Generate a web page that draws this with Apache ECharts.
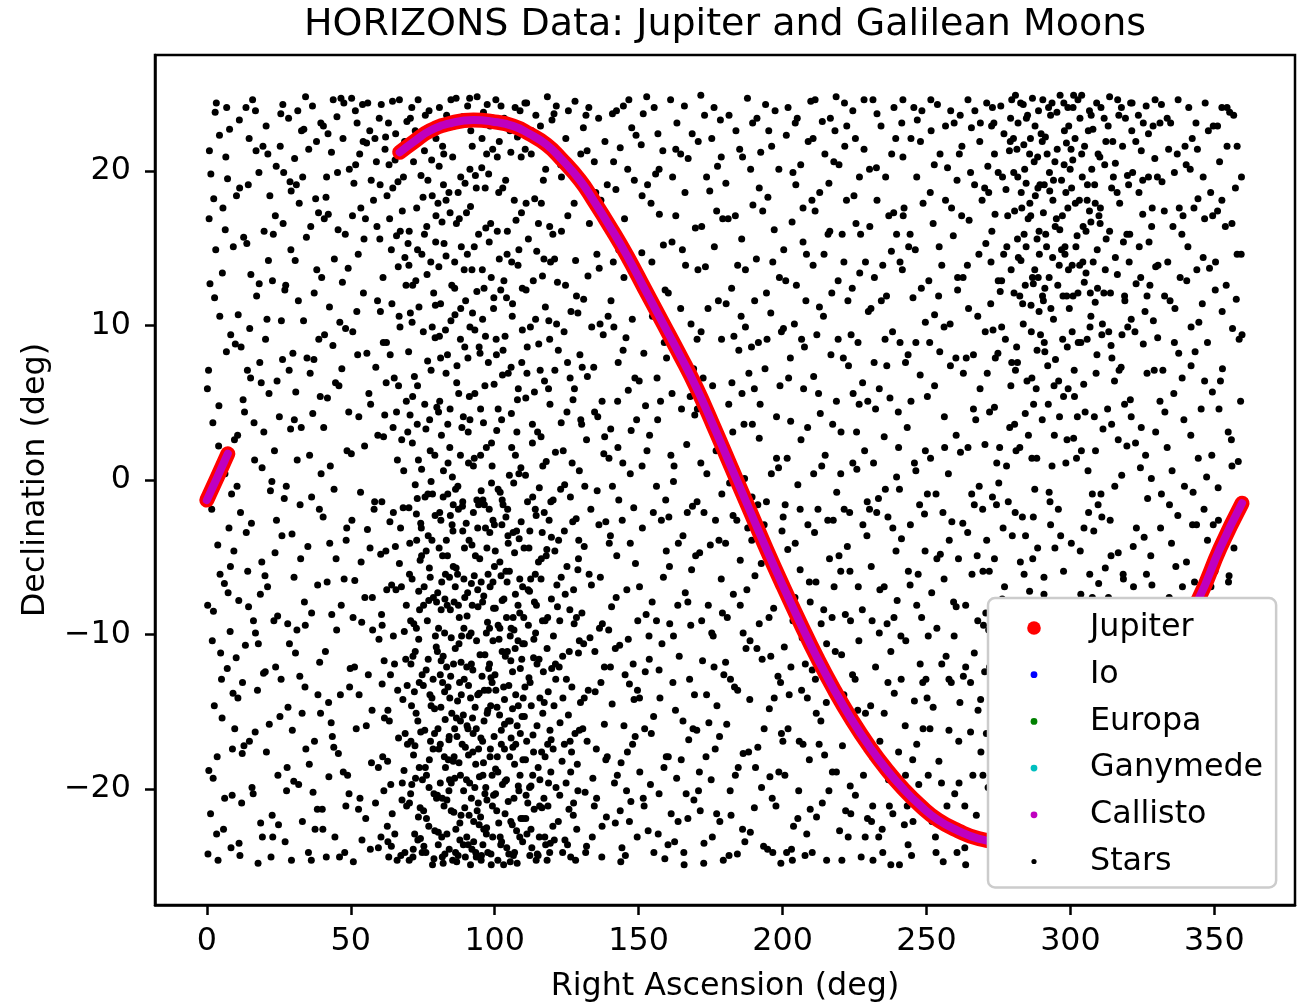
<!DOCTYPE html>
<html>
<head>
<meta charset="utf-8">
<script src="https://cdn.jsdelivr.net/npm/echarts@6/dist/echarts.min.js"></script>
<style>
  html, body { margin: 0; padding: 0; background: #fff; }
  #chart { width: 1301px; height: 1003px; }
</style>
</head>
<body>
<div id="chart"></div>
<script>
var FONT = 'DejaVu Sans';

var xTicks = [0, 50, 100, 150, 200, 250, 300, 350];
var yTicks = [-20, -10, 0, 10, 20];

// Jupiter track (RA, Dec); wraps at RA 360 -> 0
var jupiterWest = [[0,-1.3],[3.7,0.2],[7.3,1.7]];
var jupiterMain = [[67,21.2],[72,21.9],[77.5,22.6],[85,23.1],[92.6,23.3],[99,23.2],[106.5,22.9],[112,22.4],[118,21.7],[123,20.8],[129.6,19.4],[134.3,18.1],[141,16.1],[146,14.5],[152,12.4],[158,10.3],[164,8.2],[170,6.0],[176,3.5],[182,0.9],[188,-1.7],[194,-4.3],[200,-6.8],[206,-9.2],[212,-11.5],[218,-13.6],[224,-15.5],[230,-17.2],[236,-18.7],[242,-20.0],[248,-21.1],[254,-22.0],[261,-22.7],[268,-23.2],[276,-23.4],[284,-23.2],[292,-22.5],[300,-21.3],[310,-18.9],[320,-15.8],[330,-12.3],[337,-10.0],[344.5,-7.7],[352,-4.4],[359.6,-1.5]];
// the moons stay within a fraction of a degree of Jupiter at this scale
var moonWest = jupiterWest;
var moonMain = jupiterMain;

// background stars (RA, Dec)
var starsA = [
[0.4,-24.2],[1.1,12.7],[2.3,-8.5],[0.9,21.3],[3.6,-17.9],[4.2,4.8],[5.8,-22.6],[6.4,16.2],[7.7,-3.1],[8.3,9.4],[9.1,-13.8],[1.7,-1.9],[2.9,23.8],[4.8,-11.2],[6.1,-6.7],[7.2,19.5],[8.8,-20.4],[9.6,2.6],[0.6,7.1],[3.1,14.9],[5.3,-15.4],[6.9,24.1],[8.1,-9.8],[2.2,-19.3],[4.5,10.6],[9.4,-4.6],
[10.3,18.4],[11.2,-23.5],[12.6,5.2],[13.4,-10.7],[14.7,22.1],[15.5,-2.8],[16.8,-16.3],[17.3,11.9],[18.6,-7.4],[19.2,0.8],[10.8,-14.1],[11.9,8.6],[12.1,-20.9],[13.9,15.3],[14.2,-5.9],[15.9,24.6],[16.4,3.7],[17.8,-24.8],[18.1,19.9],[19.7,-12.5],[10.5,-0.4],[12.9,-17.2],[14.9,9.8],[16.2,-9.1],[18.9,6.3],[19.5,21.6],
[20.2,-6.2],[21.4,14.2],[22.7,-21.7],[23.5,1.9],[24.1,20.3],[25.8,-12.9],[26.3,7.8],[27.9,-18.6],[28.4,23.4],[29.6,-3.5],[20.9,10.4],[21.7,-15.8],[22.3,-24.4],[23.8,17.1],[24.6,-8.8],[25.2,4.1],[26.9,-1.2],[27.1,12.3],[28.7,-10.6],[29.3,18.7],[20.6,22.9],[22.1,-0.7],[24.9,-22.3],[26.5,16.6],[28.2,-14.7],[29.9,8.2],
[30.5,20.8],[31.3,-9.7],[32.8,3.4],[33.2,-22.1],[34.6,15.7],[35.1,-4.3],[36.7,24.2],[37.4,-16.9],[38.9,9.1],[39.2,-11.8],[30.2,-19.5],[31.8,11.6],[32.4,-1.6],[33.7,22.7],[34.1,-13.4],[35.9,6.9],[36.3,-24.6],[37.8,18.2],[38.5,-6.8],[39.7,0.4],[30.9,5.7],[32.1,17.9],[33.9,-7.9],[35.4,21.4],[36.9,-20.2],[38.2,13.6],[39.5,-15.1],[31.6,23.9],
[40.4,-2.4],[41.6,19.6],[42.3,-14.4],[43.8,8.7],[44.5,-23.1],[45.2,23.5],[46.7,-8.1],[47.1,12.8],[48.9,-19.1],[49.3,4.4],[40.8,16.9],[41.2,-11.1],[42.9,0.9],[43.3,21.2],[44.9,-5.1],[45.7,-17.7],[46.2,10.2],[47.6,24.4],[48.4,-3.9],[49.8,-12.2],[40.1,-21.3],[42.1,22.4],[43.6,-16.6],[45.9,6.1],[47.9,-24.1],[48.1,15.9],[49.5,20.1],[41.9,5.3],
[50.3,24.7],[51.4,-6.5],[52.6,14.6],[53.2,-20.6],[54.8,2.2],[55.5,21.8],[56.1,-12.6],[57.9,18.1],[58.3,-1.4],[59.6,-23.8],[50.7,9.6],[51.9,-16.1],[52.2,23.1],[53.8,-9.2],[54.4,12.1],[55.8,-3.2],[56.6,22.6],[57.2,-18.3],[58.7,7.3],[59.1,16.4],[50.9,-24.7],[51.1,19.2],[52.9,-13.9],[54.1,24.3],[55.2,-21.9],[56.9,4.9],[57.5,-7.6],[58.9,20.6],[59.8,-10.3],[53.5,17.6],
[60.4,-4.8],[61.2,13.1],[62.7,-22.4],[63.3,20.4],[64.8,-10.1],[65.1,6.6],[66.6,-16.7],[67.9,17.4],[68.2,-1.8],[69.5,23.2],[60.9,-13.2],[61.8,4.2],[62.1,22.2],[63.9,-19.7],[64.3,11.4],[65.7,-7.1],[66.2,1.3],[67.4,-24.3],[68.8,14.4],[69.1,-11.6],[60.2,19.1],[61.5,-20.1],[62.4,8.9],[63.6,-2.7],[64.5,24.5],[65.9,15.8],[66.9,-5.4],[67.1,9.9],[68.5,-18.8],[69.8,3.1],[60.7,-8.7],[62.9,-14.9],[64.1,-23.7],[66.4,19.3],[68.1,-14.2],[69.4,-21.1],
[70.3,16.1],[70.8,-20.3],[71.5,5.4],[71.9,-9.3],[72.4,22.6],[72.8,-2.2],[73.3,-15.6],[73.7,11.2],[74.2,-23.2],[74.6,0.7],[75.1,18.3],[75.5,-6.9],[76.2,-12.3],[76.7,7.7],[77.3,-18.1],[77.8,14.1],[78.4,-0.9],[78.9,-24.5],[79.3,9.2],[79.7,-10.8],[70.5,-4.1],[71.2,24.1],[72.1,-13.7],[73.1,3.6],[74.9,-19.4],[75.8,-1.1],[76.5,13.3],[77.1,-7.8],[78.1,20.7],[79.1,-16.4],[70.1,8.3],[71.7,-23.9],[72.6,12.9],[73.9,-8.4],[74.4,19.7],[75.3,-21.4],[76.9,-3.6],[77.6,1.9],[78.6,-12.9],[79.9,4.7],[70.9,-11.9],[72.3,-17.2],[73.5,-21.8],[74.1,-5.2],[76.1,-24.1],[77.9,-14.6],[79.5,15.4],[75.9,23.6],
[80.2,-7.3],[80.6,13.8],[81.1,-19.6],[81.5,2.9],[81.9,-13.1],[82.3,21.1],[82.7,-24.2],[83.2,-3.9],[83.6,8.1],[84.1,-16.8],[84.5,17.3],[84.9,-10.2],[85.3,0.2],[85.8,-21.5],[86.2,10.7],[86.6,-5.7],[87.1,-14.3],[87.5,5.6],[87.9,-23.3],[88.4,15.1],[88.8,-1.7],[89.3,-9.6],[89.7,19.2],[80.4,-22.8],[80.9,5.1],[81.3,-2.6],[81.7,16.7],[82.1,-11.4],[82.5,-17.9],[82.9,9.7],[83.4,-20.7],[83.8,1.1],[84.3,-6.3],[84.7,-12.7],[85.1,12.6],[85.6,-18.2],[86.4,-0.6],[86.8,-24.7],[87.3,18.6],[87.7,-8.9],[88.1,-19.1],[88.6,3.4],[89.1,-15.2],[89.5,-4.4],[89.9,11.6],[80.7,20.3],[81.4,-8.4],[82.8,-15.5],[84.2,-23.9],[85.5,-3.3],[86.9,7.4],[88.3,-11.8],[89.6,-21.2],[83.1,14.5],[86.1,-16.1],[87.4,-1.9],[84.8,24.6],[88.9,23.5]
];
var starsB = [
[90.3,-12.1],[90.7,7.9],[91.1,-21.7],[91.6,17.7],[92.1,-4.2],[92.5,-16.4],[92.9,1.4],[93.4,-24.1],[93.8,12.2],[94.2,-8.2],[94.7,-19.2],[95.1,4.6],[95.5,20.2],[95.9,-1.3],[96.4,-13.6],[96.8,9.3],[97.2,-22.5],[97.7,-6.1],[98.1,15.4],[98.5,-17.4],[98.9,-0.2],[99.4,-10.4],[99.8,6.2],[90.1,-2.8],[90.9,-17.8],[91.4,3.9],[91.8,-9.9],[92.3,10.8],[92.7,-23.4],[93.2,-14.7],[93.6,18.9],[94.4,-1.6],[94.9,-11.3],[95.3,-24.6],[95.7,13.6],[96.2,-7.5],[96.6,-20.3],[97.1,2.1],[97.4,-15.1],[97.9,19.8],[98.3,-3.4],[98.7,-12.8],[99.2,-21.1],[99.6,11.1],[90.5,14.6],[91.9,-6.7],[93.1,-19.9],[94.6,8.6],[95.8,-16.9],[97.5,-9.2],[98.8,-24.9],[99.9,-5.6],[92.2,21.6],[94.1,-13.9],[96.9,16.3],[99.1,0.9],[91.3,24.7],[96.1,23.8],[98.4,22.9],
[100.3,-18.7],[100.7,3.2],[101.2,-9.4],[101.6,14.3],[102.1,-23.6],[102.5,-2.9],[102.9,8.4],[103.4,-14.2],[103.8,19.4],[104.3,-6.6],[104.7,-20.8],[105.1,0.3],[105.6,-11.7],[106.1,10.6],[106.5,-24.3],[106.9,-4.7],[107.4,16.8],[107.8,-15.9],[108.2,5.9],[108.7,-8.6],[109.1,-21.9],[109.6,12.4],[100.1,-12.6],[100.9,20.9],[101.4,-22.2],[101.9,-0.8],[102.3,-16.2],[102.7,6.8],[103.2,-7.7],[103.6,-19.5],[104.1,11.8],[104.5,-1.9],[104.9,-13.3],[105.4,-24.7],[105.8,4.3],[106.3,-17.3],[106.7,-9.7],[107.2,1.6],[107.6,-22.7],[108.1,13.9],[108.5,-3.8],[108.9,-12.2],[109.4,7.6],[109.8,-18.1],[100.5,9.1],[101.8,-5.3],[103.1,-24.9],[104.4,16.1],[105.7,-16.7],[107.1,-10.9],[108.4,-20.1],[109.7,-6.9],[102.6,-11.1],[106.2,-14.8],[102.2,24.2],[105.3,22.6],[108.8,23.9],
[110.3,-15.3],[110.8,5.3],[111.2,-22.9],[111.7,15.6],[112.1,-7.2],[112.6,-19.8],[113.1,2.4],[113.5,-11.5],[113.9,18.2],[114.4,-2.3],[114.8,-24.2],[115.3,8.8],[115.7,-14.1],[116.2,-5.1],[116.6,13.2],[117.1,-20.6],[117.5,-9.1],[117.9,1.2],[118.4,-17.1],[118.8,10.3],[119.3,-23.5],[119.7,-3.7],[110.1,-8.9],[110.6,21.4],[111.4,-1.4],[111.9,-12.8],[112.4,9.9],[112.9,-23.8],[113.3,-16.5],[113.8,5.7],[114.2,-9.9],[114.6,14.8],[115.1,-18.6],[115.5,-0.5],[116.4,-21.2],[116.9,-12.4],[117.3,6.4],[118.1,-4.5],[118.6,-13.7],[119.1,16.4],[119.5,-18.9],[110.9,-20.4],[112.2,-3.3],[114.1,-6.1],[116.1,2.8],[118.2,-24.6],[111.1,24.4],[115.9,22.9],[117.7,20.1],[119.9,23.3],
[120.4,-10.1],[120.9,7.1],[121.3,-19.9],[121.8,12.8],[122.2,-3.9],[122.7,-15.7],[123.1,3.7],[123.6,-24.1],[124.1,9.6],[124.5,-7.4],[124.9,-12.9],[125.4,17.1],[125.8,-21.3],[126.3,-1.1],[126.7,-17.6],[127.2,5.2],[127.6,-9.3],[128.1,14.2],[128.5,-22.6],[128.9,-5.8],[129.4,0.6],[129.8,-14.4],[120.2,15.9],[120.7,-23.3],[121.6,-6.8],[122.4,-12.1],[123.4,-18.2],[124.3,-0.3],[125.1,4.4],[125.6,-15.2],[126.5,10.9],[127.4,-20.9],[128.3,-2.5],[129.1,-11.2],[129.6,8.1],[121.1,1.8],[126.1,-8.4],[128.7,-18.4],[120.6,23.7],[122.9,20.4],[124.7,22.1],[127.9,24.5],[129.2,19.8],
[130.3,-8.6],[130.9,11.7],[131.4,-20.2],[131.9,2.6],[132.5,-13.6],[132.9,16.6],[133.4,-1.9],[133.9,-23.1],[134.4,7.3],[134.8,-11.1],[135.3,-17.4],[135.8,4.1],[136.3,13.7],[136.7,-6.3],[137.2,-24.4],[137.7,9.4],[138.1,-15.8],[138.6,-2.7],[139.1,19.1],[139.6,-9.7],[130.6,-16.1],[131.1,-4.3],[132.2,6.7],[133.1,-10.2],[134.1,-19.3],[135.6,-0.7],[136.9,-13.1],[137.9,1.7],[138.8,-21.8],[139.4,10.6],[130.8,22.8],[132.7,24.1],[134.6,20.6],[136.1,23.4],[138.3,21.9],
[140.3,3.3],[140.8,-14.5],[141.4,9.9],[141.9,-22.2],[142.4,-4.9],[142.9,7.6],[143.4,-10.7],[143.9,-18.3],[144.5,1.1],[144.9,13.1],[145.4,-24.3],[145.9,-7.1],[146.4,5.8],[146.8,-13.2],[147.3,-20.8],[147.8,10.4],[148.3,-1.8],[148.8,-16.6],[149.3,3.9],[149.7,-9.1],[140.6,-8.2],[141.6,-19.6],[143.1,-1.3],[144.2,-23.8],[146.1,-17.6],[147.1,0.4],[148.1,-11.9],[149.5,-23.1],[140.9,23.7],[142.1,18.8],[143.6,21.5],[145.1,16.9],[146.6,24.6],[148.5,19.4],[149.1,22.3],
[150.4,-18.9],[150.9,21.7],[151.3,-3.1],[151.8,8.2],[152.3,-12.4],[152.8,24.8],[153.3,-22.7],[153.8,2.9],[154.3,17.9],[154.7,-7.9],[155.2,-15.3],[155.7,11.3],[156.2,-0.4],[156.7,22.4],[157.1,-20.3],[157.6,5.1],[158.1,-10.6],[158.6,15.2],[159.1,-24.5],[159.6,-4.6],[150.2,6.4],[151.1,14.7],[152.6,-8.7],[154.1,-19.7],[155.9,19.8],[157.4,-14.1],[158.9,8.9],[159.4,-1.3],
[160.3,12.1],[160.8,-9.3],[161.3,-21.6],[161.8,19.6],[162.3,0.9],[162.8,-14.9],[163.3,23.1],[163.8,-4.1],[164.3,7.9],[164.8,-18.1],[165.2,14.9],[165.7,-24.1],[166.2,-7.3],[166.7,2.3],[167.2,20.8],[167.7,-12.9],[168.2,10.1],[168.7,-1.7],[169.2,-20.7],[169.7,16.3],[160.5,-2.4],[161.6,5.6],[162.5,-23.4],[164.1,-11.4],[165.9,24.2],[167.4,-16.8],[168.4,-5.8],[169.5,4.2],
[170.2,-16.2],[170.7,21.9],[171.2,-4.7],[171.7,9.6],[172.2,-11.7],[172.7,-23.5],[173.2,13.8],[173.7,0.4],[174.2,-8.1],[174.7,18.7],[175.2,-19.4],[175.7,6.1],[176.2,24.1],[176.7,-2.6],[177.2,-14.6],[177.7,11.6],[178.2,-22.1],[178.7,-6.4],[179.2,16.9],[179.7,1.7],[170.4,4.6],[171.4,-21.4],[172.9,23.6],[174.4,-15.7],[175.9,-10.1],[177.4,20.3],[178.9,-0.9],[179.4,-24.6]
];
var starsC = [
[180.3,19.2],[180.8,-8.9],[181.3,4.9],[181.8,-20.1],[182.3,12.4],[182.8,-2.3],[183.3,-13.4],[183.8,22.6],[184.3,-24.2],[184.8,8.4],[185.3,-5.2],[185.8,15.6],[186.3,-17.7],[186.8,0.1],[187.3,-10.9],[187.8,24.7],[188.3,6.9],[188.8,-22.8],[189.3,-3.9],[189.7,17.8],[180.6,-15.8],[181.6,-0.2],[183.1,9.3],[184.6,-18.6],[186.1,20.9],[187.6,-7.1],[188.6,-14.2],[189.5,3.6],
[190.4,-6.2],[190.9,14.3],[191.4,-17.3],[191.9,2.7],[192.4,21.2],[192.9,-11.6],[193.4,-23.7],[193.9,7.2],[194.4,-1.4],[194.9,18.3],[195.4,-14.8],[195.9,10.8],[196.4,-20.6],[196.9,-8.3],[197.4,23.9],[197.9,4.1],[198.4,-12.7],[198.9,13.1],[199.4,-24.8],[199.8,-3.3],[190.2,-21.2],[191.6,8.9],[192.6,-5.4],[194.1,24.3],[195.6,-19.2],[197.1,16.2],[198.6,0.8],[199.6,-16.4],
[200.3,9.8],[200.8,-19.1],[201.3,22.3],[201.8,-4.5],[202.3,-13.9],[202.8,3.8],[203.3,16.7],[203.8,-22.4],[204.3,-7.6],[204.8,12.6],[205.3,-0.3],[205.8,-16.9],[206.3,20.4],[206.8,-10.2],[207.3,5.9],[207.8,-24.3],[208.3,14.6],[208.8,-2.9],[209.3,-18.1],[209.8,24.5],[200.6,-10.8],[201.6,1.4],[203.1,-23.9],[204.6,19.1],[206.1,-5.8],[207.6,8.6],[208.6,-14.1],[209.6,-21.3],
[210.3,-12.3],[210.8,6.7],[211.3,17.4],[211.8,-21.8],[212.3,-1.9],[212.8,11.2],[213.3,-15.6],[213.8,23.2],[214.3,-8.4],[214.8,1.6],[215.3,-24.6],[215.8,15.9],[216.3,-5.1],[216.8,8.1],[217.3,-18.9],[217.8,20.6],[218.3,-11.1],[218.8,-0.8],[219.3,12.9],[219.8,-22.7],[210.6,22.1],[211.6,-6.6],[213.1,4.3],[214.6,-17.8],[216.1,19.2],[217.6,-2.6],[218.6,24.8],[219.6,-14.4],
[220.3,3.1],[220.8,-17.2],[221.3,14.1],[221.8,-8.7],[222.3,22.9],[222.8,-23.1],[223.3,-2.1],[223.8,9.4],[224.3,-12.6],[224.8,18.4],[225.3,-20.4],[225.8,0.7],[226.3,-6.9],[226.8,13.4],[227.3,-24.4],[227.8,6.3],[228.3,21.4],[228.8,-15.1],[229.3,-3.6],[229.8,10.9],[220.5,-11.3],[221.5,24.4],[222.5,-4.3],[223.5,-19.8],[224.5,5.6],[225.5,16.6],[226.5,-10.4],[227.5,-16.7],[228.5,1.9],[229.5,-21.9],
[230.3,16.4],[230.8,-5.6],[231.3,-21.1],[231.8,7.6],[232.3,-12.1],[232.8,23.7],[233.3,-1.2],[233.8,-16.9],[234.3,11.6],[234.8,-24.1],[235.3,2.8],[235.8,19.6],[236.3,-9.3],[236.8,-19.4],[237.3,5.3],[237.8,14.8],[238.3,-3.1],[238.8,-13.8],[239.3,22.1],[239.8,-7.8],[230.6,-14.6],[231.6,1.1],[232.6,20.2],[233.6,-9.9],[234.6,-22.6],[235.6,9.1],[236.6,-2.4],[237.6,-24.9],[238.6,17.3],[239.6,0.2],
[240.3,-17.6],[240.8,8.9],[241.3,-3.8],[241.8,20.9],[242.3,-22.3],[242.8,-10.4],[243.3,3.4],[243.8,15.1],[244.3,-6.8],[244.8,-24.3],[245.3,11.8],[245.8,-14.3],[246.3,0.6],[246.8,23.3],[247.3,-19.7],[247.8,6.8],[248.3,-8.9],[248.8,17.9],[249.3,-2.2],[249.8,-12.9],[240.6,-0.6],[241.6,13.6],[242.6,-15.9],[243.6,-23.6],[244.6,5.1],[245.6,24.1],[246.6,-8.1],[247.6,-1.6],[248.6,-20.9],[249.6,10.2],
[250.3,5.4],[250.8,-21.4],[251.3,18.6],[251.8,-7.3],[252.3,-14.7],[252.8,10.7],[253.3,-0.9],[253.8,24.3],[254.3,-18.2],[254.8,-4.8],[255.3,13.9],[255.8,-24.7],[256.3,2.1],[256.8,-11.4],[257.3,20.2],[257.8,-16.2],[258.3,7.4],[258.8,-2.7],[259.3,15.8],[259.8,-20.3],[250.6,-10.1],[251.6,22.6],[253.1,-23.1],[254.6,8.3],[256.1,-6.4],[257.6,0.4],[258.6,-13.1],[259.6,23.1],
[260.3,-8.2],[260.8,12.3],[261.3,-19.6],[261.8,1.8],[262.3,21.6],[262.8,-12.7],[263.3,-23.8],[263.8,7.9],[264.3,-3.4],[264.8,16.8],[265.3,-16.3],[265.8,-6.1],[266.3,4.6],[266.8,23.9],[267.3,-21.7],[267.8,10.6],[268.3,-0.4],[268.8,-14.2],[269.3,18.1],[269.8,-9.4],[260.6,19.4],[261.6,-14.4],[262.6,-2.8],[263.6,-24.9],[264.6,11.1],[265.6,22.8],[266.6,-11.2],[267.6,-4.9],[268.6,5.9],[269.6,-19.1]
];
var starsD = [
[270.3,2.3],[270.8,-16.4],[271.3,20.3],[271.8,-5.9],[272.3,11.4],[272.8,-22.1],[273.3,-11.8],[273.8,17.2],[274.3,-1.6],[274.8,8.2],[275.3,-19.3],[275.8,24.2],[276.3,-7.7],[276.8,14.6],[277.3,-24.2],[277.8,0.9],[278.3,-13.3],[278.8,21.3],[279.3,6.1],[279.8,-3.6],[270.6,15.3],[271.6,-9.7],[272.6,22.9],[273.6,4.7],[274.6,-14.9],[275.6,12.2],[276.6,-21.1],[277.6,18.8],[278.6,-8.6],[279.6,24.6],[271.1,-23.4],[273.1,9.7],[275.1,-0.2],[277.1,-17.3],
[280.3,19.9],[280.8,-10.6],[281.3,8.6],[281.8,23.1],[282.3,-18.6],[282.8,14.2],[283.3,-2.4],[283.8,21.7],[284.3,4.3],[284.8,-22.8],[285.3,16.9],[285.8,-7.2],[286.3,11.3],[286.8,24.7],[287.3,-14.6],[287.8,18.4],[288.3,1.4],[288.8,13.1],[289.3,-20.6],[289.8,22.4],[280.6,3.6],[281.6,15.6],[282.6,-5.3],[283.6,10.1],[284.6,19.2],[285.6,-16.8],[286.6,6.6],[287.6,-0.6],[288.6,20.9],[289.6,9.4],[280.2,-24.1],[281.1,-13.6],[283.1,17.6],[285.1,23.6],[286.1,-11.9],[287.1,12.7],[288.1,-8.1],[289.1,16.1],
[290.3,11.9],[290.8,-6.3],[291.3,22.2],[291.8,-17.7],[292.3,4.9],[292.8,18.7],[293.3,-11.3],[293.8,14.4],[294.3,-23.3],[294.8,7.8],[295.3,23.8],[295.8,-1.9],[296.3,16.2],[296.8,-14.1],[297.3,9.1],[297.8,20.4],[298.3,-20.9],[298.8,2.6],[299.3,13.6],[299.8,-8.4],[290.6,17.3],[291.6,-24.6],[292.6,-0.8],[293.6,24.4],[294.6,-4.4],[295.6,12.6],[296.6,-19.1],[297.6,5.4],[298.6,21.8],[299.6,-15.6],[290.1,-12.8],[291.1,8.3],[293.1,-2.9],[294.1,19.4],[296.1,-9.6],[297.1,-22.4],[298.1,15.1],[299.1,24.1],
[300.3,-4.1],[300.8,20.7],[301.3,7.1],[301.8,-21.2],[302.3,15.8],[302.8,-9.8],[303.3,23.4],[303.8,1.9],[304.3,-15.9],[304.8,12.8],[305.3,-24.4],[305.8,18.1],[306.3,-2.1],[306.8,9.9],[307.3,-12.2],[307.8,22.7],[308.3,4.1],[308.8,-18.4],[309.3,14.9],[309.8,-6.7],[300.6,13.9],[301.6,-13.4],[302.6,24.6],[303.6,-7.4],[304.6,6.2],[305.6,-19.9],[306.6,17.4],[307.6,-0.9],[308.6,11.5],[309.6,21.1],[300.2,-17.1],[301.1,2.7],[303.1,-23.7],[304.1,19.6],[306.1,-10.7],[307.1,16.7],[308.1,-3.3],[309.1,-24.8],
[310.3,16.6],[310.8,-8.3],[311.3,3.3],[311.8,-19.8],[312.3,21.9],[312.8,-13.1],[313.3,9.6],[313.8,-2.6],[314.3,18.9],[314.8,-23.8],[315.3,6.4],[315.8,-10.3],[316.3,13.3],[316.8,23.6],[317.3,-16.6],[317.8,0.3],[318.3,-6.1],[318.8,11.9],[319.3,-21.3],[319.8,19.7],[310.6,-0.9],[311.6,12.1],[312.6,-24.7],[313.6,24.8],[314.6,-12.4],[315.6,20.5],[316.6,-4.7],[317.6,7.3],[318.6,-15.1],[319.6,2.2],[310.1,-22.6],[312.1,-5.7],[314.1,8.7],[316.1,-18.6],
[320.3,-14.3],[320.8,5.2],[321.3,22.6],[321.8,-4.3],[322.3,-20.4],[322.8,12.7],[323.3,-9.4],[323.8,18.6],[324.3,0.8],[324.8,-24.1],[325.3,8.8],[325.8,-13.3],[326.3,24.2],[326.8,-1.2],[327.3,15.4],[327.8,-17.9],[328.3,-6.8],[328.8,10.3],[329.3,20.8],[329.8,-22.6],[320.6,15.9],[321.6,-10.9],[322.6,2.4],[323.6,-23.2],[324.6,21.3],[325.6,-3.7],[326.6,6.9],[327.6,-11.7],[328.6,-19.5],[329.6,13.8],[321.1,-17.1],[325.1,17.2],
[330.3,9.2],[330.8,-18.1],[331.3,-3.1],[331.8,19.3],[332.3,-11.9],[332.8,4.4],[333.3,-23.6],[333.8,14.1],[334.3,-7.6],[334.8,23.1],[335.3,0.6],[335.8,-15.4],[336.3,11.1],[336.8,-20.7],[337.3,-2.3],[337.8,17.6],[338.3,-10.3],[338.8,6.6],[339.3,-24.7],[339.8,21.6],[330.6,-9.1],[331.6,24.3],[332.6,-19.4],[333.6,2.1],[334.6,-13.6],[335.6,16.4],[336.6,-5.6],[337.6,8.2],[338.6,-16.8],[339.6,-0.4],
[340.3,-5.3],[340.8,15.1],[341.3,-21.9],[341.8,2.9],[342.3,22.1],[342.8,-13.2],[343.3,8.3],[343.8,-2.9],[344.3,18.2],[344.8,-18.9],[345.3,-9.6],[345.8,11.4],[346.3,-24.3],[346.8,24.4],[347.3,0.2],[347.8,-15.2],[348.3,13.7],[348.8,-6.9],[349.3,5.7],[349.8,-20.3],[340.6,-15.9],[341.6,20.1],[342.6,-0.8],[343.6,-23.9],[344.6,10.2],[345.6,-11.4],[346.6,16.9],[347.6,-3.9],[348.6,-17.7],[349.6,22.9],
[350.3,12.3],[350.8,-11.7],[351.3,-0.5],[351.8,20.6],[352.3,-19.3],[352.8,7.2],[353.3,-8.1],[353.8,16.4],[354.3,-23.2],[354.8,3.1],[355.3,23.8],[355.8,-14.8],[356.3,9.8],[356.8,-4.4],[357.3,18.9],[357.8,-21.4],[358.3,1.2],[358.8,-10.9],[359.3,14.6],[359.7,-17.2],[350.6,-24.5],[351.6,4.6],[352.6,24.1],[353.6,-15.6],[355.1,-6.2],[356.6,-22.1],[357.6,11.7],[359.1,-2.1]
];
// second pass over the field, denser clusters around RA 65-130 and the upper right
var starsE = [
[3.3,24.4],[7.9,22.7],[1.4,19.8],[5.6,17.6],[9.2,15.1],[2.7,11.8],[6.8,8.3],[0.2,5.9],[4.1,2.2],[8.6,-0.9],[3.8,-4.2],[7.4,-7.3],[1.9,-10.4],[5.1,-12.9],[9.7,-16.1],[0.7,-18.8],[6.2,-20.6],[3.4,-22.9],[8.4,-23.8],[2.6,-14.6],
[13.6,24.1],[17.1,21.3],[11.4,18.9],[19.9,16.1],[15.3,13.3],[10.9,10.7],[18.4,7.6],[13.1,4.4],[16.6,1.3],[11.7,-2.1],[19.1,-5.3],[14.5,-8.2],[10.2,-11.5],[17.6,-13.6],[12.3,-17.7],[15.7,-19.9],[18.7,-22.2],[11.5,-24.3],[16.9,-9.9],[14.1,7.1],
[25.7,23.7],[21.2,21.1],[28.9,19.3],[23.1,15.9],[27.4,12.6],[20.4,9.1],[24.4,6.4],[29.1,3.3],[22.6,-0.1],[26.1,-3.6],[21.1,-6.9],[28.1,-9.3],[23.9,-12.1],[25.4,-15.3],[20.7,-17.6],[27.7,-20.1],[22.9,-23.1],[29.4,-24.6],[24.2,-2.6],[26.7,19.9],
[34.3,24.8],[38.1,21.9],[31.1,19.1],[36.1,16.4],[39.9,13.1],[33.6,10.3],[37.2,7.8],[30.4,3.9],[35.7,1.6],[39.1,-1.9],[32.6,-5.1],[36.4,-8.6],[30.8,-11.2],[38.6,-13.9],[34.4,-17.4],[31.9,-19.7],[37.6,-22.6],[35.3,-24.1],[33.1,-15.1],[39.4,5.4],
[43.9,24.6],[47.3,22.1],[41.4,18.3],[45.6,16.2],[49.1,13.7],[42.6,11.2],[46.9,7.2],[40.6,3.4],[44.2,-0.6],[48.6,-3.1],[41.8,-6.6],[45.1,-9.7],[49.6,-13.4],[43.2,-15.7],[47.4,-18.9],[40.3,-22.6],[46.1,-24.4],[48.3,-21.1],[42.4,-19.2],[44.7,6.3],
[51.6,23.9],[55.9,24.4],[58.4,22.1],[53.1,21.1],[57.1,19.4],[50.6,17.1],[54.6,15.6],[59.3,11.6],[52.4,8.1],[56.3,5.6],[50.2,1.7],[58.1,-1.9],[53.6,-5.3],[57.6,-9.7],[51.3,-12.1],[55.4,-15.9],[59.6,-18.6],[52.7,-21.3],[56.8,-23.9],[54.9,-7.6],
[60.6,24.3],[63.1,23.1],[66.9,24.6],[61.9,21.4],[65.4,20.7],[68.7,21.9],[62.6,18.4],[67.2,16.1],[64.1,14.9],[69.2,12.6],[60.3,10.9],[63.7,8.1],[66.6,6.1],[61.4,2.8],[68.4,0.6],[64.8,-2.1],[62.2,-4.6],[67.6,-6.9],[60.9,-9.4],[65.2,-11.9],[69.6,-13.3],[63.4,-15.6],[61.1,-17.9],[67.9,-19.6],[64.4,-21.6],[62.9,-23.4],[66.1,-24.6],[69.3,-8.1],[65.9,4.4],[68.9,-16.4],
[70.7,23.4],[73.4,24.6],[77.2,23.9],[79.6,22.1],[71.8,20.6],[75.6,21.3],[78.3,18.4],[72.9,17.6],[76.4,16.4],[70.2,13.9],[74.7,14.6],[78.8,12.1],[71.3,10.2],[75.2,9.6],[77.9,7.1],[73.2,6.1],[70.6,4.2],[76.1,3.3],[79.2,1.6],[72.4,-0.3],[74.3,-2.8],[78.2,-3.9],[70.4,-6.1],[73.6,-7.2],[76.6,-9.1],[79.4,-10.1],[71.6,-11.4],[74.8,-12.6],[77.5,-13.9],[72.7,-15.1],[70.9,-16.9],[75.7,-16.2],[78.6,-17.4],[73.8,-18.6],[71.2,-19.7],[76.3,-19.1],[79.8,-20.6],[74.1,-21.2],[72.2,-22.9],[77.1,-22.4],[75.4,-23.7],[70.3,-24.6],[78.4,-24.9],[73.1,-1.2],[76.8,-0.9],[71.4,2.4],[77.6,-6.3],[74.6,-4.9],[79.1,-14.8],[72.8,-9.6],
[80.8,24.1],[83.3,23.6],[86.6,24.7],[81.9,21.6],[85.4,20.9],[88.2,19.6],[80.3,17.9],[84.1,18.6],[87.7,16.9],[82.4,15.3],[86.1,14.1],[89.4,13.6],[81.2,11.4],[84.8,10.3],[88.1,9.1],[83.1,6.9],[86.8,6.3],[80.5,4.4],[89.1,4.1],[84.4,2.1],[82.2,0.6],[87.2,-0.4],[80.9,-2.1],[85.2,-2.9],[88.9,-3.3],[83.6,-4.9],[81.6,-6.6],[86.3,-6.9],[89.6,-7.6],[84.6,-8.4],[82.6,-9.9],[87.6,-10.6],[80.1,-11.1],[85.7,-11.9],[83.8,-13.4],[88.4,-13.9],[81.3,-14.7],[86.7,-15.4],[84.2,-16.6],[80.6,-17.4],[88.7,-17.1],[82.9,-18.6],[86.1,-19.3],[89.2,-20.1],[81.8,-20.6],[84.9,-21.4],[87.9,-22.2],[83.4,-22.9],[80.4,-23.6],[86.4,-24.1],[82.1,-24.8],[89.8,-24.4],[85.6,-5.6],[87.4,-8.1],[83.7,-0.9],[81.1,-12.6],[85.9,-17.9],[88.1,-15.6],[84.3,-19.4],[82.7,-7.7],
[90.6,24.2],[93.9,24.8],[97.4,24.3],[91.7,22.6],[95.6,22.1],[99.3,21.4],[93.3,19.7],[96.7,18.9],[90.2,17.3],[98.6,16.6],[94.4,15.9],[92.1,13.6],[96.3,12.4],[99.7,11.8],[91.4,9.9],[94.9,8.2],[97.8,7.6],[93.1,5.6],[90.8,3.1],[96.1,3.7],[98.9,2.4],[92.6,0.9],[95.3,-0.7],[91.1,-3.9],[94.1,-3.1],[97.3,-4.4],[99.4,-6.6],[92.9,-6.2],[95.8,-7.9],[90.4,-8.8],[98.2,-9.6],[93.7,-10.4],[91.9,-11.9],[96.6,-11.3],[99.1,-13.1],[94.6,-13.8],[92.3,-15.4],[97.6,-14.9],[90.7,-16.1],[95.2,-16.7],[98.4,-17.9],[93.4,-18.4],[91.3,-19.6],[96.9,-19.9],[99.6,-20.4],[94.3,-20.9],[92.7,-22.1],[97.1,-22.9],[90.3,-23.1],[95.9,-23.6],[93.6,-24.4],[98.7,-24.2],[91.6,-24.9],[96.4,-1.6],[94.8,-5.1],[92.4,-17.6],[97.9,-12.2],[99.9,-2.9],[90.9,-13.3],[95.1,-21.8],
[100.4,24.6],[103.3,23.4],[107.1,24.1],[101.6,21.9],[105.6,21.2],[109.2,20.9],[102.8,18.9],[106.8,18.1],[100.9,16.1],[104.3,14.6],[108.4,14.9],[102.1,12.3],[106.2,11.4],[109.6,9.7],[100.6,8.1],[104.7,6.9],[107.9,5.2],[102.4,3.9],[105.9,2.1],[109.1,0.8],[101.2,-0.6],[103.9,-2.4],[107.6,-3.3],[100.2,-4.6],[105.1,-5.9],[108.7,-6.4],[102.6,-7.8],[106.4,-8.9],[101.5,-10.3],[104.4,-11.1],[109.4,-11.6],[103.1,-13.4],[107.3,-13.9],[100.8,-14.7],[105.4,-15.6],[108.9,-16.4],[102.3,-17.1],[106.9,-18.4],[104.1,-19.4],[100.3,-20.3],[108.2,-19.8],[103.6,-21.6],[106.1,-22.3],[101.9,-23.1],[109.7,-23.4],[104.9,-24.2],[107.8,-24.8],[102.9,-1.6],[105.7,-9.6],[108.1,-8.1],[101.1,-18.9],[103.4,-15.8],[106.6,-0.2],[109.9,-14.1],[104.6,-3.6],
[110.5,24.4],[114.3,23.6],[118.3,24.8],[112.7,21.1],[116.9,19.4],[110.9,17.9],[115.2,16.6],[119.4,14.1],[113.4,12.9],[117.6,11.2],[111.3,8.6],[115.8,7.1],[119.2,4.9],[113.1,3.6],[110.7,0.3],[116.7,0.9],[114.1,-1.9],[118.9,-2.6],[111.9,-4.4],[116.1,-6.4],[113.8,-7.9],[110.3,-10.6],[118.4,-8.9],[115.4,-11.6],[112.3,-13.1],[117.2,-14.4],[119.8,-12.2],[114.7,-15.9],[111.1,-16.9],[116.3,-17.6],[113.2,-19.1],[118.7,-19.6],[110.8,-21.9],[115.6,-21.1],[112.6,-22.6],[117.4,-23.1],[114.4,-24.6],[119.1,-24.1],[111.6,-7.1],[117.9,-4.9],[113.6,-10.3],[116.6,-9.1],[119.6,-16.8],[112.1,-19.9],[115.1,-24.3],
[121.4,24.2],[125.6,23.9],[123.2,19.6],[127.6,17.9],[120.8,14.3],[124.6,12.6],[128.9,10.8],[122.1,8.4],[126.2,6.6],[129.9,3.9],[123.8,1.9],[120.3,-1.3],[127.1,-2.7],[125.1,-5.6],[121.8,-8.2],[128.4,-8.9],[123.6,-11.4],[126.8,-13.4],[120.6,-14.6],[129.4,-16.2],[124.2,-17.1],[122.6,-20.4],[127.3,-21.7],[125.3,-23.6],[120.2,-22.4],[128.1,-24.6],[123.1,-6.3],[126.4,-18.9],[121.1,-11.9],[129.1,-5.1],
[131.7,23.6],[135.1,18.6],[138.9,16.4],[132.4,13.2],[136.6,10.1],[130.4,7.3],[134.7,4.4],[138.2,2.8],[131.3,-0.4],[136.2,-2.9],[139.8,-4.1],[133.6,-6.8],[130.9,-10.6],[137.4,-9.3],[134.9,-13.7],[132.1,-16.9],[138.6,-18.1],[135.4,-20.6],[131.9,-23.7],[137.3,-22.4],
[141.3,20.6],[144.7,24.2],[147.6,22.8],[143.1,14.9],[148.2,13.9],[140.4,11.6],[145.6,9.2],[142.7,5.1],[147.4,3.2],[140.9,-0.4],[144.3,-2.6],[148.9,-5.4],[142.2,-7.6],[146.4,-10.3],[140.2,-12.1],[144.9,-15.9],[148.4,-14.2],[142.6,-19.1],[146.8,-22.1],[143.8,-24.7],
[151.6,23.7],[155.4,24.1],[158.4,21.3],[153.1,19.1],[157.2,17.2],[150.6,12.4],[154.8,10.6],[159.2,12.3],[152.4,4.8],[156.4,6.6],[151.2,0.9],[155.1,-2.1],[158.6,-6.3],[153.6,-10.1],[150.3,-14.1],[157.1,-12.3],[154.4,-16.4],[151.9,-21.1],[156.8,-22.9],[159.6,-17.9],
[161.1,24.6],[164.6,21.1],[168.6,22.4],[162.9,17.1],[166.3,13.9],[160.4,9.4],[164.9,4.6],[169.1,7.2],[162.1,-0.1],[166.9,-2.1],[160.7,-5.6],[163.6,-8.1],[168.1,-9.4],[161.9,-13.1],[165.4,-15.6],[169.4,-13.9],[163.2,-19.3],[167.1,-21.9],[160.2,-23.6],[165.8,-24.9],
[171.6,24.9],[175.4,22.1],[178.4,23.3],[173.6,19.6],[177.1,17.4],[170.6,13.6],[174.1,11.1],[178.8,9.1],[172.4,6.6],[176.9,1.9],[170.3,-1.4],[174.9,-4.2],[179.1,-8.6],[171.9,-9.1],[176.2,-12.1],[173.4,-17.9],[178.1,-16.6],[170.8,-20.1],[175.6,-23.1],[172.6,-24.8],
[181.4,23.6],[185.1,21.4],[188.9,20.1],[183.6,17.1],[187.1,13.6],[180.4,11.4],[185.6,10.6],[189.2,8.6],[182.4,6.3],[186.6,3.6],[180.9,1.4],[184.1,-2.6],[189.4,-1.1],[182.9,-7.4],[186.3,-9.9],[180.2,-11.8],[184.4,-13.6],[188.2,-17.6],[182.1,-21.7],[186.9,-23.4],
[191.1,23.4],[195.2,22.6],[198.7,20.1],[193.1,17.4],[196.6,14.1],[190.3,11.6],[194.6,9.1],[199.1,6.1],[192.2,4.9],[196.1,0.4],[190.8,-2.4],[194.2,-4.1],[198.3,-6.1],[191.9,-9.3],[195.9,-11.4],[199.3,-13.1],[193.6,-16.1],[190.6,-18.6],[197.7,-21.1],[194.8,-23.9],
[201.9,24.1],[205.1,23.4],[208.9,21.9],[203.6,19.9],[207.1,17.6],[200.4,14.9],[204.1,10.1],[208.1,11.6],[202.1,6.6],[206.4,2.6],[200.9,-1.6],[204.4,-4.1],[209.3,-6.6],[202.9,-12.1],[206.6,-13.6],[200.1,-16.9],[205.6,-20.1],[208.4,-22.9],[203.4,-24.6],[207.1,-17.1],
[211.3,24.6],[214.7,21.1],[218.2,22.6],[212.9,18.6],[216.4,16.1],[210.6,13.9],[214.2,10.6],[219.3,9.1],[212.5,5.6],[217.4,3.6],[210.8,0.4],[215.7,-2.6],[219.6,-4.9],[213.4,-9.3],[217.2,-8.9],[211.7,-15.1],[215.2,-14.4],[218.7,-18.9],[213.8,-20.9],[210.3,-24.1],
[221.6,21.6],[224.4,23.9],[228.3,24.6],[222.2,18.1],[226.7,19.6],[220.7,15.9],[224.2,12.4],[228.8,14.1],[222.9,7.4],[226.2,8.9],[220.2,0.4],[225.7,3.1],[229.4,-1.4],[223.4,-5.9],[227.7,-8.4],[221.3,-13.9],[225.2,-12.9],[228.1,-19.1],[223.7,-21.6],[220.6,-24.6],
[231.4,24.6],[234.2,22.9],[238.7,24.1],[232.8,18.1],[236.9,17.1],[230.7,11.1],[234.8,13.9],[238.2,9.6],[232.3,4.6],[236.2,7.4],[230.2,-1.9],[235.7,-0.6],[239.4,-4.6],[233.8,-7.1],[237.6,-11.1],[231.2,-17.9],[235.3,-15.1],[238.3,-21.6],[233.4,-23.1],[230.9,-22.1],
[241.8,24.6],[244.6,22.1],[248.4,23.9],[242.2,17.6],[246.6,19.6],[240.8,14.1],[244.3,15.9],[248.2,12.4],[242.7,7.6],[246.3,8.9],[240.3,2.1],[245.8,1.1],[249.5,-4.6],[243.7,-5.9],[247.8,-11.9],[241.2,-12.9],[245.2,-18.1],[248.8,-16.1],[243.3,-21.1],[240.6,-24.9],
[251.5,24.6],[254.7,21.1],[258.4,23.9],[252.3,16.6],[256.6,18.1],[250.8,12.9],[254.2,11.9],[258.2,10.1],[252.8,6.1],[256.2,4.1],[250.3,-0.9],[255.7,-2.1],[259.4,-7.9],[253.6,-9.6],[257.8,-12.9],[251.2,-16.1],[255.2,-19.6],[258.9,-22.6],[253.3,-24.1],[250.6,-19.1],
[261.7,23.6],[264.4,24.6],[268.5,21.9],[262.2,17.1],[266.7,19.1],[260.8,13.1],[264.2,13.9],[268.2,14.6],[262.8,6.9],[266.3,8.1],[260.3,2.9],[265.7,-0.9],[269.5,-1.9],[263.6,-8.1],[267.8,-9.1],[261.2,-16.9],[265.3,-13.1],[268.9,-17.6],[263.3,-21.1],[260.6,-24.1],
[270.9,24.4],[273.4,23.1],[276.9,22.4],[279.1,21.9],[271.6,18.6],[274.9,19.9],[278.2,17.1],[272.4,14.1],[276.1,12.9],[279.4,13.6],[270.4,9.6],[273.9,7.9],[277.4,9.1],[271.9,4.4],[275.4,2.1],[278.9,3.4],[272.9,-1.1],[276.6,-3.1],[270.6,-8.6],[274.1,-9.9],[278.4,-10.9],[272.2,-14.1],[275.9,-17.1],[279.6,-16.6],[271.4,-19.9],[274.4,-22.6],[277.9,-23.1],[273.6,-5.1],[276.2,-13.6],[270.2,-12.4],
[280.9,24.9],[283.6,24.3],[286.1,22.1],[288.9,23.9],[281.4,21.4],[284.1,20.1],[287.4,20.6],[289.4,19.1],[280.6,17.4],[282.9,18.6],[285.9,17.9],[288.4,15.6],[281.9,14.4],[284.6,15.1],[287.6,13.6],[280.4,12.1],[283.4,11.4],[286.4,9.6],[289.1,10.9],[281.6,7.6],[284.9,6.4],[288.1,5.9],[282.4,2.1],[286.6,1.4],[280.8,-2.1],[284.4,-3.6],[288.6,-4.4],[282.1,-8.9],[286.9,-9.4],[280.2,-13.1],[284.2,-14.1],[288.2,-12.6],[282.6,-17.9],[286.2,-19.6],[289.6,-16.9],[281.2,-21.9],[285.4,-23.4],[288.8,-23.9],[283.9,-6.1],[287.1,-2.4],
[290.4,24.6],[293.1,23.6],[296.4,24.9],[299.4,22.9],[291.9,21.1],[294.6,20.6],[297.9,22.6],[290.9,19.1],[293.9,18.1],[296.9,19.4],[299.1,17.6],[291.4,15.9],[295.1,16.9],[298.1,14.6],[292.6,13.1],[296.1,13.9],[299.6,11.1],[290.6,11.6],[294.1,10.4],[297.4,11.9],[292.1,7.4],[295.9,6.4],[298.9,8.6],[290.2,3.9],[294.4,2.9],[298.4,1.1],[292.9,-1.4],[296.6,-3.6],[290.8,-7.4],[294.9,-8.9],[298.6,-10.6],[292.4,-13.9],[296.4,-15.1],[290.4,-18.4],[294.1,-19.9],[298.1,-18.6],[292.1,-22.9],[296.1,-23.9],[299.6,-24.4],[297.6,-5.9],
[300.9,24.1],[303.9,24.9],[306.6,23.9],[309.1,24.4],[301.6,22.1],[304.9,21.6],[307.4,20.1],[300.4,18.9],[303.1,18.1],[305.9,19.1],[308.6,17.9],[301.9,15.1],[304.4,16.4],[307.9,14.1],[302.6,12.1],[305.4,13.4],[309.4,12.4],[300.6,9.6],[303.6,8.9],[307.1,10.6],[301.4,5.4],[305.1,4.4],[308.9,6.9],[302.1,1.4],[306.1,0.6],[309.6,-1.6],[303.4,-4.6],[307.6,-7.6],[300.8,-10.4],[304.6,-11.9],[308.4,-13.6],[302.9,-16.9],[306.9,-17.9],[301.1,-20.9],[304.1,-22.6],[308.1,-21.4],[302.4,-24.1],[306.4,-24.6],[305.6,-14.6],[309.8,-9.1],
[310.6,24.1],[313.1,22.9],[316.4,24.6],[319.1,23.4],[311.9,20.4],[314.9,19.6],[318.1,21.6],[310.4,17.6],[313.6,16.1],[317.1,17.9],[319.6,15.9],[312.1,13.6],[315.6,14.4],[318.9,11.6],[311.1,10.1],[314.4,7.9],[317.9,9.4],[312.9,4.6],[316.6,2.6],[310.9,-2.4],[314.1,-4.9],[318.4,-6.4],[312.4,-10.1],[316.1,-12.9],[319.4,-11.1],[310.2,-15.6],[313.9,-18.1],[317.4,-20.4],[311.6,-22.9],[315.1,-24.1],[319.1,-24.6],[315.9,-8.1],
[320.9,24.4],[323.6,23.6],[327.1,22.4],[329.4,24.6],[321.6,19.9],[325.1,19.4],[328.4,17.6],[320.4,14.1],[323.9,15.1],[327.6,12.6],[322.4,9.6],[325.9,10.9],[329.1,7.1],[321.1,4.1],[324.6,3.4],[328.1,0.1],[322.9,-3.1],[326.4,-6.1],[320.6,-8.9],[324.1,-11.9],[328.9,-13.6],[322.1,-16.6],[326.1,-19.1],[320.2,-21.9],[324.4,-23.9],[328.4,-24.4],[323.1,-19.6],[327.9,-4.9],
[331.1,23.1],[334.1,21.4],[337.4,24.6],[332.6,17.4],[336.1,19.9],[339.1,17.1],[330.4,13.9],[334.6,11.6],[338.1,13.1],[332.1,7.1],[335.9,5.6],[339.4,3.9],[331.6,-0.9],[335.1,-4.1],[338.9,-6.9],[333.1,-11.1],[336.9,-13.9],[330.9,-17.6],[334.4,-21.6],[338.4,-22.9],
[341.1,24.1],[344.1,21.4],[347.9,22.6],[342.9,17.6],[346.1,19.6],[349.4,17.1],[340.4,12.9],[343.9,13.6],[347.6,8.9],[341.9,7.4],[345.4,4.6],[349.1,1.6],[342.4,-2.9],[346.4,-1.9],[340.9,-8.9],[344.6,-12.9],[348.6,-10.1],[342.1,-17.9],[346.9,-21.4],[349.6,-24.1],
[351.1,22.9],[354.4,24.1],[357.9,21.6],[352.6,18.1],[356.1,16.6],[359.4,19.6],[350.4,14.1],[354.1,12.6],[358.6,9.1],[352.1,6.4],[355.9,2.6],[359.1,5.1],[351.4,-2.6],[354.9,-6.6],[358.1,-7.9],[352.9,-12.1],[356.6,-15.6],[350.9,-19.1],[354.6,-20.9],[358.9,-23.6]
];
// third pass: fills out the dense band near RA 65-130 and the upper right
var starsF = [
[0.8,16.9],[2.1,3.7],[4.6,-6.1],[6.6,20.9],[8.9,-17.4],[1.3,-21.6],[5.4,13.4],[7.1,-12.2],[9.9,8.8],[3.9,-24.6],[2.4,18.2],[6.3,0.4],[8.2,-5.6],[4.4,22.3],[0.3,-8.1],
[10.7,2.9],[12.4,-13.1],[14.4,19.1],[16.1,-20.3],[18.2,12.7],[11.3,23.3],[13.7,-3.4],[15.2,6.6],[17.9,-10.6],[19.3,-23.1],[12.8,15.7],[16.9,23.9],[19.8,3.1],[11.1,-7.8],[14.8,-16.9],
[21.6,5.6],[23.3,-9.1],[25.5,21.6],[27.6,-0.4],[29.7,-16.2],[20.3,-12.4],[22.8,12.9],[24.7,-19.1],[26.4,24.3],[28.6,7.1],[21.9,18.4],[23.7,-4.7],[25.9,10.3],[27.2,-23.4],[29.2,14.9],
[30.7,14.2],[32.3,-12.7],[34.8,7.9],[36.4,-1.1],[38.4,-21.3],[31.4,1.3],[33.3,19.6],[35.6,-18.4],[37.3,12.1],[39.6,23.1],[30.3,-6.3],[32.9,22.6],[34.2,-9.4],[36.8,4.3],[38.8,17.3],
[40.9,9.4],[42.7,-4.1],[44.3,14.3],[46.4,-13.9],[48.7,1.9],[41.5,-24.4],[43.4,-8.7],[45.4,19.9],[47.7,-6.4],[49.4,-20.3],[40.5,22.9],[42.2,17.2],[44.1,-17.3],[46.6,24.7],[48.2,9.8],
[50.4,-2.6],[52.1,10.9],[53.9,-23.3],[55.6,8.2],[57.4,-14.9],[59.4,2.9],[51.7,20.4],[53.4,-0.8],[55.1,16.9],[56.7,-4.4],[58.6,-20.9],[50.8,-8.9],[52.8,4.1],[54.3,21.9],[59.9,23.4],
[60.1,15.6],[60.8,-1.4],[61.6,-11.7],[62.3,6.3],[62.8,-18.2],[63.5,16.9],[64.2,-6.8],[64.7,3.4],[65.3,-22.9],[65.6,22.4],[66.3,-13.6],[66.8,10.6],[67.3,-3.1],[67.8,-20.7],[68.3,19.6],[68.6,-9.8],[69.3,5.1],[69.7,-17.1],[60.5,-23.1],[61.3,8.9],[62.5,-7.1],[63.2,-24.4],[64.6,18.9],[65.5,-4.3],[66.5,13.8],[67.7,2.6],[68.8,-24.1],[69.9,15.3],[61.7,-15.4],[63.8,-12.6],
[70.2,-1.8],[70.7,10.8],[71.1,-14.6],[71.6,-24.4],[72.1,6.7],[72.5,-19.3],[73.2,14.9],[73.6,-10.3],[74.1,22.1],[74.5,-3.1],[75.2,-13.3],[75.7,4.9],[76.3,-21.9],[76.8,19.4],[77.3,-5.7],[77.7,-16.9],[78.3,9.9],[78.7,-7.6],[79.2,-22.7],[79.6,17.1],[70.4,-20.9],[71.3,-6.4],[72.4,-11.1],[73.3,-23.3],[74.3,-16.3],[75.3,-8.1],[76.2,-4.6],[77.2,-19.9],[78.2,-14.1],[79.3,-2.3],[70.8,-9.1],[71.8,-17.8],[72.9,-3.9],[73.8,-13.1],[74.8,-24.1],[75.9,-18.6],[76.9,-11.6],[77.9,-0.1],[78.9,-20.3],[79.8,-7.9],[71.5,12.6],[73.5,1.3],[75.6,15.9],[77.4,3.9],[79.4,11.3],
[80.3,-16.1],[80.7,-4.4],[81.2,7.9],[81.6,-23.1],[82.1,-1.1],[82.6,-13.7],[83.1,18.1],[83.5,-8.1],[84.1,-20.1],[84.5,4.6],[85.1,-15.1],[85.6,-1.6],[86.1,12.4],[86.5,-22.6],[87.1,-6.1],[87.6,-18.3],[88.1,1.6],[88.5,-10.1],[89.1,-23.6],[89.6,8.6],[80.5,-9.6],[81.1,-17.1],[81.9,-4.9],[82.4,-21.1],[83.3,-12.1],[83.9,-18.1],[84.6,-2.3],[85.4,-24.6],[86.3,-10.9],[86.9,-16.6],[87.8,-13.1],[88.3,-21.7],[89.3,-6.4],[89.8,-17.3],[80.1,-20.4],[81.4,-11.7],[82.9,-6.1],[84.4,-14.1],[85.9,-7.9],[87.3,-24.3],[88.9,-1.4],[80.8,9.3],[82.2,19.1],[83.7,3.6],[85.3,22.9],[86.7,16.6],[88.2,11.1],[89.4,-12.9],[84.9,-19.6],[81.8,-24.4],
[90.2,-19.4],[90.6,-7.3],[91.2,5.4],[91.6,-14.1],[92.1,-23.9],[92.6,-2.1],[93.1,9.7],[93.6,-16.1],[94.1,-7.1],[94.6,-22.3],[95.1,1.6],[95.6,-12.7],[96.1,-18.3],[96.6,6.1],[97.1,-9.9],[97.6,-24.1],[98.1,-1.9],[98.6,-14.6],[99.1,-19.1],[99.6,-8.3],[90.4,-15.9],[91.1,-10.1],[91.9,-20.6],[92.4,-12.3],[93.3,-4.9],[93.9,-21.4],[94.4,-17.4],[95.3,-6.6],[95.9,-19.1],[96.3,-15.6],[97.3,-20.7],[97.8,-13.6],[98.4,-6.9],[99.3,-23.1],[99.8,-16.6],[90.8,-23.6],[92.2,-8.1],[93.8,-1.3],[95.4,-24.3],[96.8,-3.1],[98.2,-11.9],[99.4,-2.6],[91.4,20.1],[92.9,15.1],[94.3,23.1],[95.8,10.4],[97.2,21.1],[98.8,13.1],[90.9,1.1],[96.2,-22.6],
[100.2,-8.3],[100.7,-21.4],[101.2,4.6],[101.7,-15.2],[102.2,-6.2],[102.7,-19.7],[103.2,12.9],[103.7,-11.4],[104.2,-23.8],[104.7,-4.1],[105.2,-17.9],[105.7,7.3],[106.2,-12.4],[106.7,-20.6],[107.2,-7.4],[107.7,3.1],[108.2,-14.6],[108.7,-23.1],[109.2,-2.7],[109.7,-10.6],[100.4,-13.6],[101.1,-24.6],[101.8,-9.6],[102.6,-1.3],[103.4,-17.4],[104.1,-8.9],[104.8,-15.6],[105.6,-22.1],[106.4,-3.4],[107.3,-17.1],[108.1,-10.4],[108.8,-19.1],[109.5,-15.3],[100.9,-17.9],[102.4,-23.4],[103.9,-5.9],[105.4,-10.1],[106.9,-24.1],[108.4,0.4],[109.8,-21.9],[101.4,18.6],[103.6,9.3],[105.9,14.1],[107.9,22.2],[109.3,17.3],
[110.2,-4.4],[110.7,-18.1],[111.2,6.9],[111.7,-9.4],[112.2,-24.3],[112.7,-14.6],[113.2,-1.1],[113.7,-21.3],[114.2,10.4],[114.7,-11.9],[115.2,-5.3],[115.7,-19.4],[116.2,17.9],[116.7,-15.1],[117.2,-2.1],[117.7,-23.6],[118.2,-10.9],[118.7,5.9],[119.2,-16.2],[119.7,-7.7],[110.5,-13.4],[111.5,-20.9],[112.5,-6.4],[113.5,-17.6],[114.5,-8.1],[115.5,-23.1],[116.5,-3.4],[117.5,-17.9],[118.5,-21.1],[119.5,-1.4],[110.9,12.3],[112.9,22.6],[114.9,3.1],[117.1,14.3],[119.1,9.1],
[120.3,-17.4],[120.9,-4.6],[121.5,10.1],[122.1,-22.1],[122.6,-9.1],[123.2,16.1],[123.7,-14.1],[124.2,-3.3],[124.8,-19.6],[125.3,7.6],[125.9,-11.1],[126.4,-24.4],[126.9,1.1],[127.4,-7.1],[127.9,-16.4],[128.4,11.9],[128.9,-20.1],[129.4,-10.4],[129.9,21.1],[121.2,-12.9],[122.9,-0.6],[124.4,-23.3],[126.2,-16.9],[127.7,5.9],[129.2,-3.9],
[130.2,3.6],[131.1,-14.1],[132.1,21.3],[132.8,-6.1],[133.7,9.9],[134.6,-21.1],[135.5,14.6],[136.4,-9.6],[137.3,5.1],[138.1,-12.1],[139.1,-17.9],[139.7,1.4],[131.6,-24.1],[136.9,18.1],
[140.2,-3.6],[141.2,14.1],[141.9,-10.9],[142.8,2.1],[143.6,-21.4],[144.6,8.4],[145.3,-12.6],[146.2,20.1],[147.1,-4.1],[147.9,-17.1],[148.7,6.6],[149.6,-13.6],[142.3,23.9],[145.8,-20.1],
[150.3,-6.9],[151.2,18.4],[152.1,-16.1],[152.9,1.9],[153.7,-11.6],[154.6,14.1],[155.3,-24.1],[156.2,-9.1],[157.1,20.1],[157.9,-2.6],[158.8,-18.6],[159.7,7.9],[151.6,-20.6],[156.6,3.9],
[160.3,-17.9],[161.2,1.6],[162.1,-10.1],[162.9,21.4],[163.7,-22.1],[164.6,11.1],[165.4,-3.6],[166.1,18.6],[167.1,-7.9],[167.9,5.4],[168.9,-16.1],[169.8,-4.9],[161.6,15.4],[166.5,-20.3],
[170.3,9.1],[171.1,-18.9],[171.9,16.4],[172.7,-2.1],[173.6,-13.9],[174.6,4.4],[175.4,-9.9],[176.3,15.1],[177.1,-21.6],[177.9,-3.9],[178.7,20.9],[179.6,-12.6],[171.6,1.1],[176.6,-17.4],
[180.2,-4.1],[181.1,16.9],[181.9,-12.9],[182.7,3.1],[183.6,-19.1],[184.4,13.9],[185.3,-8.1],[186.1,-22.6],[187.1,9.9],[187.9,-3.1],[188.7,-10.4],[189.6,23.1],[181.4,-24.3],[185.9,5.6],
[190.2,5.9],[191.1,-10.9],[191.9,18.9],[192.7,-19.9],[193.6,-2.9],[194.4,12.1],[195.3,-8.9],[196.2,21.6],[197.1,-14.1],[197.9,1.4],[198.7,-18.9],[199.6,9.6],[191.4,-1.6],[196.6,-24.1],
[200.2,-2.4],[201.1,12.9],[201.9,-16.1],[202.7,7.9],[203.6,-9.1],[204.4,23.1],[205.3,-21.9],[206.1,-1.9],[207.1,15.4],[207.9,-11.9],[208.7,3.4],[209.6,-7.9],[201.4,-24.1],[206.6,9.1],
[210.2,18.1],[211.1,-3.4],[211.9,9.4],[212.7,-17.1],[213.6,0.9],[214.4,14.6],[215.3,-10.6],[216.1,-20.1],[217.1,12.1],[217.9,-6.9],[218.7,5.1],[219.6,20.4],[211.4,-12.9],[216.6,23.4],
[220.2,-5.9],[221.1,7.9],[221.9,-21.4],[222.7,11.6],[223.6,-9.1],[224.4,1.1],[225.3,22.1],[226.1,-14.9],[227.1,15.9],[227.9,-2.9],[228.7,-23.1],[229.6,5.1],[221.4,-1.9],[226.6,4.9],
[230.2,20.1],[231.1,-9.1],[231.9,13.1],[232.7,-2.1],[233.6,5.9],[234.4,-18.1],[235.3,-6.9],[236.1,11.9],[237.1,-21.1],[237.9,21.1],[238.7,-8.9],[239.6,15.9],[231.4,-24.6],[236.6,-13.1],
[240.2,4.4],[241.1,-10.1],[241.9,17.1],[242.7,-19.1],[243.6,8.1],[244.4,-2.9],[245.3,-22.1],[246.1,14.9],[247.1,-6.1],[247.9,21.9],[248.7,-13.1],[249.6,1.9],[241.4,23.1],[246.6,-17.1],
[250.2,-14.1],[251.1,8.9],[251.9,-22.1],[252.7,20.4],[253.6,-5.1],[254.4,15.1],[255.3,-11.9],[256.1,9.9],[257.1,-21.1],[257.9,-3.9],[258.7,17.6],[259.6,-10.1],[251.4,1.4],[256.6,22.9],
[260.2,7.9],[261.1,-5.1],[261.9,-22.6],[262.7,13.1],[263.6,-12.1],[264.4,2.1],[265.3,19.9],[266.1,-19.1],[267.1,3.9],[267.9,-14.9],[268.7,23.1],[269.6,-5.9],[261.4,21.1],[266.6,-1.6],
[270.2,18.9],[271.1,6.9],[271.9,-12.1],[272.7,16.1],[273.6,21.1],[274.4,1.1],[275.3,-24.9],[276.1,9.9],[277.1,-6.9],[277.9,15.1],[278.7,-19.1],[279.6,7.6],[270.9,-3.9],[272.9,24.1],[274.9,12.9],[276.4,19.6],[278.4,-1.4],[279.2,23.4],
[280.2,22.1],[280.9,7.1],[281.7,19.6],[282.4,11.9],[283.2,-10.1],[283.9,15.9],[284.7,23.4],[285.4,2.9],[286.2,17.1],[286.9,-5.1],[287.7,22.9],[288.4,8.4],[289.2,14.6],[289.9,-10.6],[281.1,1.9],[282.7,24.4],[284.3,12.6],[285.8,21.1],[287.2,4.9],[288.7,18.9],[283.6,-20.1],[286.8,13.1],
[290.2,21.9],[290.9,8.9],[291.7,15.1],[292.4,24.1],[293.2,11.1],[293.9,-14.9],[294.7,16.4],[295.4,21.4],[296.2,4.1],[296.9,14.9],[297.7,24.4],[298.4,18.6],[299.2,5.9],[299.9,20.1],[291.1,12.4],[292.7,19.9],[294.3,6.1],[295.8,-9.4],[297.2,17.1],[298.7,11.9],[293.6,0.9],[296.7,-20.9],
[300.2,21.4],[300.9,11.9],[301.7,17.9],[302.4,4.1],[303.2,13.9],[303.9,21.1],[304.7,-3.1],[305.4,16.1],[306.2,22.6],[306.9,12.1],[307.7,-16.9],[308.4,19.1],[309.2,8.1],[309.9,17.1],[301.1,24.9],[302.7,8.9],[304.3,14.1],[305.8,9.1],[307.2,23.6],[308.7,1.9],[303.6,-19.1],[306.7,-6.1],
[310.2,20.9],[310.9,9.4],[311.7,23.4],[312.4,15.6],[313.2,-7.6],[313.9,12.1],[314.7,21.9],[315.4,-0.4],[316.2,18.6],[316.9,7.1],[317.7,24.1],[318.4,15.4],[319.2,-16.1],[319.9,9.9],[311.4,-13.6],[314.3,3.6],[317.4,-10.6],[318.8,4.9],
[320.2,19.1],[321.1,10.4],[321.9,-6.9],[322.7,21.9],[323.6,-15.6],[324.4,13.1],[325.3,23.1],[326.1,1.6],[327.1,19.6],[327.9,-20.9],[328.7,22.9],[329.6,3.1],[321.4,24.4],[324.9,-8.4],[326.6,11.9],[328.2,16.4],
[330.2,19.6],[331.1,5.1],[331.9,-14.6],[332.7,11.9],[333.6,23.4],[334.4,-1.6],[335.3,-19.1],[336.1,8.9],[337.1,21.1],[337.9,-8.4],[338.7,15.9],[339.6,-18.4],[332.3,-23.9],[336.4,-11.6],
[340.2,20.4],[341.1,-11.1],[341.9,9.9],[342.7,-19.6],[343.6,23.1],[344.4,1.4],[345.3,-15.1],[346.1,14.4],[347.1,-8.1],[347.9,-23.1],[348.7,18.6],[349.6,-2.9],[343.1,-6.6],[346.6,6.4],
[350.2,-5.9],[351.1,17.4],[351.9,-15.1],[352.7,10.9],[353.6,-3.4],[354.4,21.6],[355.3,-18.1],[356.1,0.9],[357.1,-11.4],[357.9,14.6],[358.7,-19.1],[359.6,9.4],[353.1,-21.6],[356.7,23.6]
];
var stars = starsA.concat(starsB, starsC, starsD, starsE, starsF);

var chart = echarts.init(document.getElementById('chart'), null, {renderer: 'canvas'});

// legend marker: a dot of radius r inside an 80x32 box, centred at x=29
function dotIcon(r) {
    return 'path://M0,0M80,32M' + (29 - r) + ',16a' + r + ',' + r + ' 0 1,0 ' + (2 * r) + ',0a' + r + ',' + r + ' 0 1,0 ' + (-2 * r) + ',0Z';
}

function trackSeries(name, color, width, west, main) {
    return [west, main].map(function(d){
        return {
            name: name,
            type: 'line',
            data: d,
            smooth: true,
            symbol: 'none',
            silent: true,
            lineStyle: {color: color, width: width, cap: 'round', join: 'round'},
            itemStyle: {color: color}
        };
    });
}

var series = [].concat(
    trackSeries('Jupiter', '#ff0000', 15, jupiterWest, jupiterMain),
    trackSeries('Io', '#0000ff', 6, moonWest, moonMain),
    trackSeries('Europa', '#008000', 6, moonWest, moonMain),
    trackSeries('Ganymede', '#00bfbf', 6, moonWest, moonMain),
    trackSeries('Callisto', '#bf00bf', 8, moonWest, moonMain)
);
series.push({
    name: 'Stars',
    type: 'scatter',
    data: stars,
    symbol: 'circle',
    symbolSize: 7,
    large: false,
    progressive: 0,
    silent: true,
    itemStyle: {color: '#000000', opacity: 1, borderWidth: 0}
});

var option = {
    animation: false,
    backgroundColor: '#ffffff',
    title: {
        text: 'HORIZONS Data: Jupiter and Galilean Moons',
        left: 725,
        top: 6,
        padding: 0,
        textAlign: 'center',
        textStyle: {fontFamily: FONT, fontSize: 38, fontWeight: 'normal', color: '#000'}
    },
    grid: {
        left: 155, top: 55, width: 1140, height: 850,
        show: true, borderColor: '#000', borderWidth: 2.5,
        outerBoundsMode: 'none'
    },
    legend: {
        orient: 'vertical',
        left: 988,
        top: 598,
        padding: [14, 13, 10, 17],
        itemGap: 14.7,
        itemWidth: 80,
        itemHeight: 32,
        selectedMode: false,
        backgroundColor: '#ffffff',
        borderColor: '#cccccc',
        borderWidth: 2.5,
        borderRadius: 7,
        itemStyle: {borderWidth: 0},
        textStyle: {fontFamily: FONT, fontSize: 31.75, color: '#000'},
        data: [
            {name: 'Jupiter', icon: dotIcon(6.8), itemStyle: {color: '#ff0000', borderWidth: 0}},
            {name: 'Io', icon: dotIcon(3.4), itemStyle: {color: '#0000ff', borderWidth: 0}},
            {name: 'Europa', icon: dotIcon(3.4), itemStyle: {color: '#008000', borderWidth: 0}},
            {name: 'Ganymede', icon: dotIcon(3.4), itemStyle: {color: '#00bfbf', borderWidth: 0}},
            {name: 'Callisto', icon: dotIcon(3.4), itemStyle: {color: '#bf00bf', borderWidth: 0}},
            {name: 'Stars', icon: dotIcon(2.6), itemStyle: {color: '#000000', borderWidth: 0}}
        ]
    },
    xAxis: {
        type: 'value',
        min: -18,
        max: 378,
        name: 'Right Ascension (deg)',
        nameLocation: 'middle',
        nameGap: 66,
        nameTextStyle: {fontFamily: FONT, fontSize: 31.75, color: '#000'},
        axisLine: {show: true, onZero: false, lineStyle: {color: '#000', width: 2.5}},
        axisTick: {show: true, length: 10, customValues: xTicks, lineStyle: {color: '#000', width: 2.5}},
        axisLabel: {customValues: xTicks, margin: 21, fontFamily: FONT, fontSize: 31.75, color: '#000'},
        splitLine: {show: false}
    },
    yAxis: {
        type: 'value',
        min: -27.5,
        max: 27.5,
        name: 'Declination (deg)',
        nameLocation: 'middle',
        nameGap: 103,
        nameTextStyle: {fontFamily: FONT, fontSize: 31.75, color: '#000'},
        axisLine: {show: true, onZero: false, lineStyle: {color: '#000', width: 2.5}},
        axisTick: {show: true, length: 10, customValues: yTicks, lineStyle: {color: '#000', width: 2.5}},
        axisLabel: {
            customValues: yTicks, margin: 24, fontFamily: FONT, fontSize: 31.75, color: '#000',
            formatter: function(v){ return String(v).replace('-', '\u2212'); }
        },
        splitLine: {show: false}
    },
    series: series
};

chart.setOption(option);
</script>
</body>
</html>
